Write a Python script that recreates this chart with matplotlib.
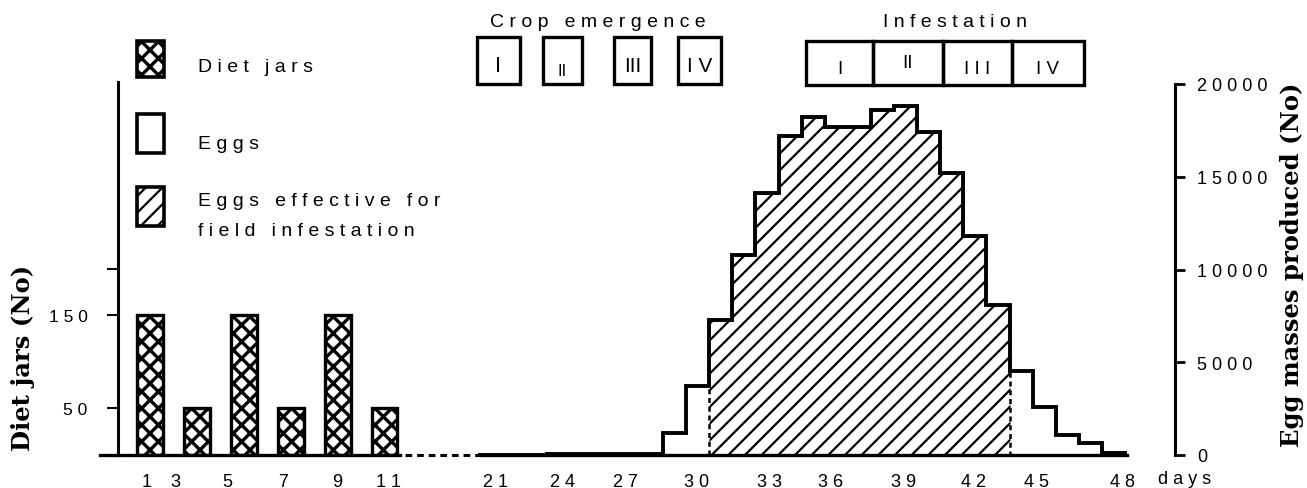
import numpy as np
import matplotlib
matplotlib.use('Agg')
import matplotlib.pyplot as plt
import matplotlib.transforms as mtransforms
from matplotlib.patches import Rectangle
from matplotlib.lines import Line2D

# diet jars set up every second day
jar_days = [1, 3, 5, 7, 9, 11]
jar_counts = [150, 50, 150, 50, 150, 50]

# egg masses produced per day (days 21..48)
egg_days = list(range(21, 49))
eggs = [0, 0, 0, 80, 80, 60, 60, 40, 1200, 3700, 7300, 10800, 14100, 17200,
        18200, 17700, 17700, 18600, 18800, 17400, 15200, 11800, 8100, 4550,
        2600, 1080, 650, 100]
# days whose eggs were effective for field infestation
effective_days = list(range(31, 44))

# crop emergence stages (start / end day) and infestation stage limits
crop_labels = ['I', 'II', 'III', 'I V']
crop_start = [20.45, 23.3, 26.4, 29.15]
crop_end = [22.3, 25.0, 28.0, 31.0]
infest_labels = ['I', 'II', 'I I I', 'I V']
infest_edges = [34.7, 37.6, 40.6, 43.6, 46.7]

# day labels as printed on the original
left_tick_pos = [0.87, 2.07, 4.28, 6.67, 8.97, 11.15]
left_tick_lab = ['1', '3', '5', '7', '9', '11']
right_tick_pos = [21.27, 24.17, 26.86, 29.97, 33.09, 35.77, 38.89, 41.96, 44.65, 48.4]
right_tick_lab = ['21', '24', '27', '30', '33', '36', '39', '42', '45', '48']

W, H = 1307, 489

plt.rcParams['font.family'] = 'Liberation Sans'
plt.rcParams['hatch.linewidth'] = 1.6


def spaced(s):
    return ' '.join(s)


def fx(p):
    return p / W


def fy(p):
    return 1 - p / H


def fig_box(left, top, right, bottom):
    return [fx(left), fy(bottom), (right - left) / W, (bottom - top) / H]


def dark_hatch(patch):
    # the diet-jar pattern is a heavy cross hatch
    if hasattr(patch, 'set_hatch_linewidth'):
        patch.set_hatch_linewidth(2.4)


fig = plt.figure(figsize=(W / 100, H / 100), dpi=100)

# ---- left part: diet jars ----
axL = fig.add_axes(fig_box(100, 83, 400, 456))
bars = axL.bar(jar_days, jar_counts, width=1.1, facecolor='white', edgecolor='black',
               hatch='xx', linewidth=2.4)
for b in bars:
    dark_hatch(b)
axL.set_xlim(-1.13, 11.66)
axL.set_ylim(0, 400)
for s in ['top', 'right']:
    axL.spines[s].set_visible(False)
axL.spines['left'].set_position(('axes', 0.06))
axL.spines['left'].set_linewidth(2.2)
axL.spines['bottom'].set_linewidth(2.4)
axL.set_yticks([50, 150, 200], [spaced('50'), spaced('150'), ''])
axL.tick_params(axis='y', direction='out', length=8, width=1.5, pad=14, labelsize=12.5)
axL.set_xticks(left_tick_pos, [spaced(t) for t in left_tick_lab])
axL.tick_params(axis='x', length=0, pad=13, labelsize=13)

# ---- right part: egg masses ----
axR = fig.add_axes(fig_box(450, 85, 1175, 456))
edges = np.arange(egg_days[0] - 0.5, egg_days[-1] + 1.5)
i0 = egg_days.index(effective_days[0])
i1 = egg_days.index(effective_days[-1]) + 1
axR.stairs(eggs[i0:i1], edges[i0:i1 + 1], baseline=0, fill=True,
           facecolor='white', edgecolor='black', hatch='//',
           linewidth=1.8, linestyle=(0, (2, 1.5)), zorder=2)
axR.stairs(eggs, edges, baseline=0, color='black', linewidth=2.8, zorder=3)
axR.set_xlim(19.28, 50.66)
axR.set_ylim(0, 20000)
for s in ['top', 'left']:
    axR.spines[s].set_visible(False)
axR.spines['right'].set_linewidth(2.2)
axR.spines['bottom'].set_linewidth(2.4)
axR.spines['bottom'].set_bounds(20.66, 48.6)
axR.yaxis.tick_right()
yt = [0, 5000, 10000, 15000, 20000]
axR.set_yticks(yt, [spaced(str(v)) for v in yt])
axR.tick_params(axis='y', direction='out', length=7, width=2, pad=9, labelsize=13)
axR.set_xticks(right_tick_pos, [spaced(t) for t in right_tick_lab])
axR.tick_params(axis='x', length=0, pad=13, labelsize=13)

# broken axis between the two parts
fig.add_artist(Line2D([fx(405), fx(482)], [fy(456), fy(456)], transform=fig.transFigure,
                      color='black', linewidth=2.2, linestyle=(0, (2.2, 1.6))))

fig.text(fx(1185), fy(480), spaced('days'), ha='center', va='center', size=13)

# ---- stage boxes ----
blend = mtransforms.blended_transform_factory(axR.transData, fig.transFigure)
fig.text(fx(598), fy(27), spaced('Crop emergence'), ha='center', va='baseline', size=14)
crop_y = [67, 72, 67, 67]
crop_size = [16, 12, 15, 15]
for lab, a, b, yy, sz in zip(crop_labels, crop_start, crop_end, crop_y, crop_size):
    fig.add_artist(Rectangle((a, fy(85)), b - a, 47 / H, transform=blend,
                             fill=False, edgecolor='black', linewidth=2.4))
    fig.text((a + b) / 2, fy(yy), lab, transform=blend, ha='center', va='center', size=sz)

fig.text(fx(955), fy(27), spaced('Infestation'), ha='center', va='baseline', size=14)
infest_y = [70, 63, 70, 70]
for k, lab in enumerate(infest_labels):
    a, b = infest_edges[k], infest_edges[k + 1]
    fig.add_artist(Rectangle((a, fy(86)), b - a, 44 / H, transform=blend,
                             fill=False, edgecolor='black', linewidth=2.4))
    fig.text((a + b) / 2, fy(infest_y[k]), lab, transform=blend,
             ha='center', va='center', size=13.5)

# ---- legend ----
leg = [('xx', 42, 78, [(spaced('Diet jars'), 72)]),
       (None, 115, 154, [(spaced('Eggs'), 149)]),
       ('//', 188, 227, [(spaced('Eggs effective for'), 206),
                         (spaced('field infestation'), 236)])]
for hatch, top, bot, texts in leg:
    box = Rectangle((fx(137), fy(bot)), 27 / W, (bot - top) / H,
                    transform=fig.transFigure, facecolor='white',
                    edgecolor='black', hatch=hatch, linewidth=2.6)
    if hatch == 'xx':
        dark_hatch(box)
    fig.add_artist(box)
    for t, yb in texts:
        fig.text(fx(198), fy(yb), t, ha='left', va='baseline', size=14)

# ---- axis titles ----
fig.text(fx(23), fy(358), 'Diet jars (No)', rotation=90, ha='center', va='center',
         family='DejaVu Serif', weight='bold', size=17.5)
fig.text(fx(1292), fy(265), 'Egg masses produced (No)', rotation=90, ha='center',
         va='center', family='DejaVu Serif', weight='bold', size=17.5)

fig.savefig('out.png', dpi=100)
